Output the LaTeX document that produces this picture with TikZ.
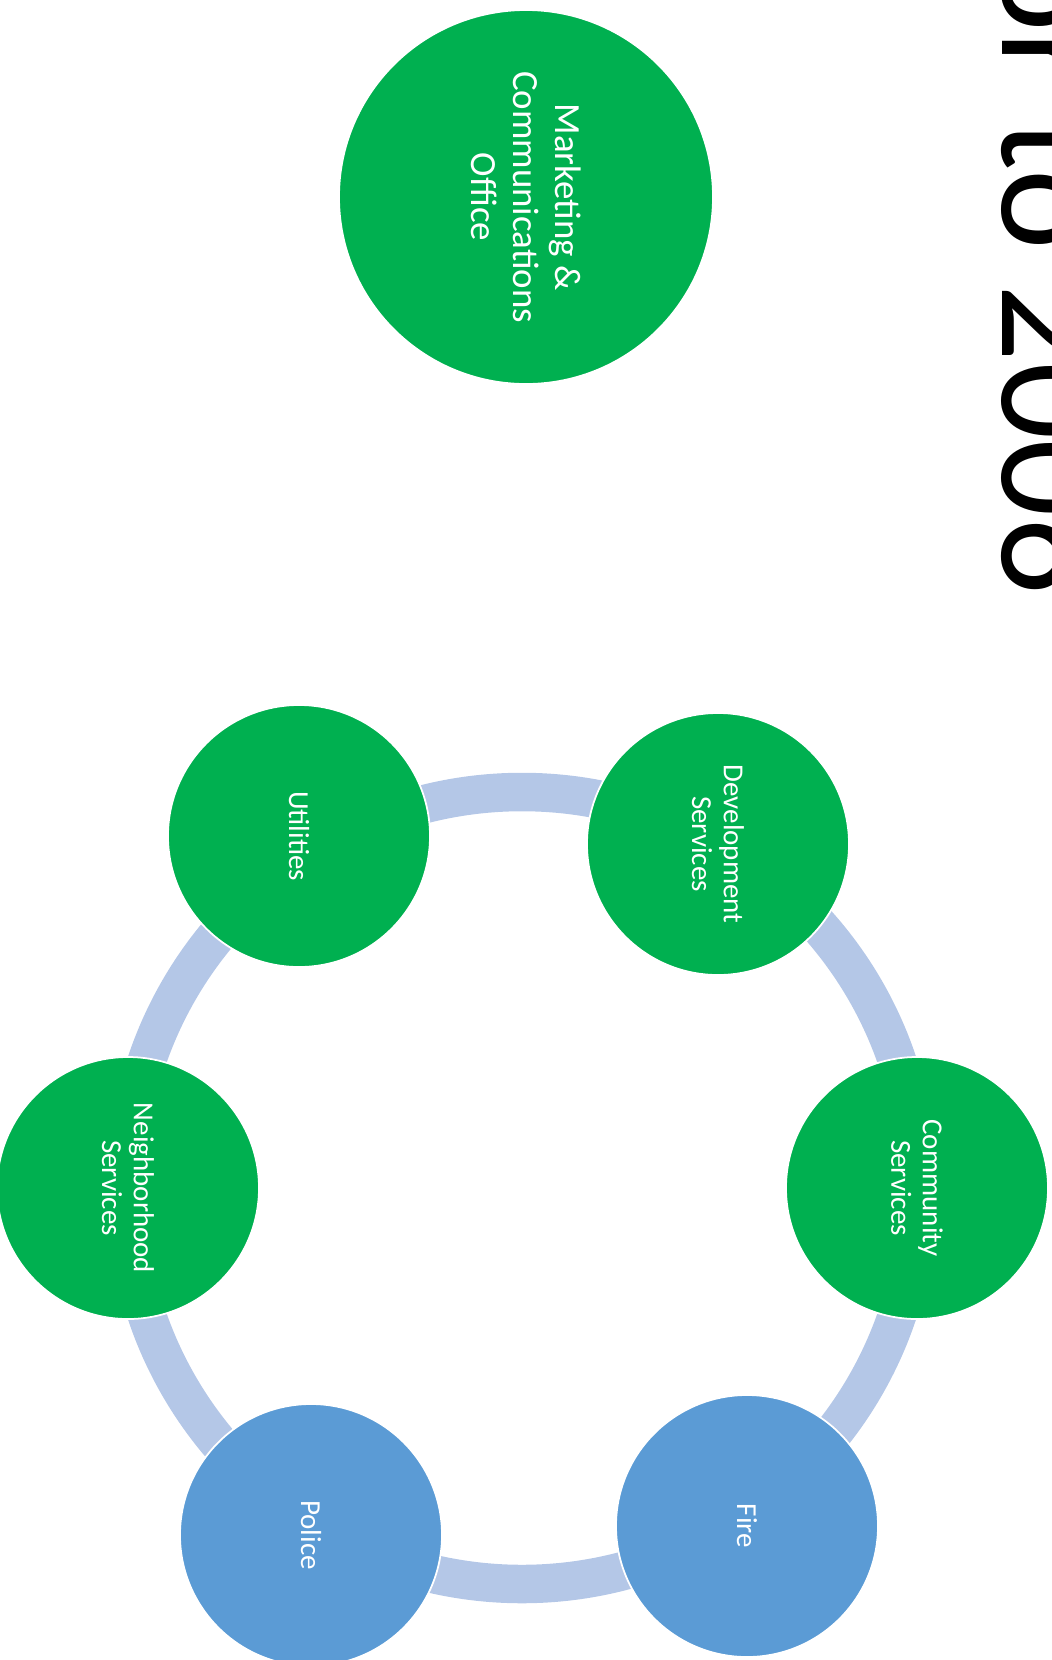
\documentclass[tikz,border=0pt]{standalone}
\usepackage{fontspec}
\setmainfont{Carlito}
\usepackage{tikz}
\definecolor{OfficeGreen}{RGB}{0,176,80}
\definecolor{OfficeBlue}{RGB}{91,155,213}
\definecolor{RingBlue}{RGB}{180,199,231}
\tikzset{
  ball/.style={circle, draw=white, line width=0.35mm, minimum size=52.4mm, inner sep=0pt,
    text=white, align=center, rotate=-90, font=\fontsize{16.5}{18}\selectfont},
  greenball/.style={ball, fill=OfficeGreen},
  blueball/.style={ball, fill=OfficeBlue},
  bigball/.style={greenball, minimum size=74.8mm, font=\fontsize{21}{24}\selectfont},
  ringband/.style={draw=RingBlue, line width=7.7mm},
  titletxt/.style={rotate=-90, inner sep=0pt, font=\fontsize{87}{87}\selectfont},
}

\begin{document}
\begin{tikzpicture}[x=0.2mm, y=-0.2mm]
  \useasboundingbox (0,0) rectangle (1052,1660);
  \clip (0,0) rectangle (1052,1660);
  \node[titletxt, anchor=base east] (title) at (1002,595) {or to 2006};
  \node[bigball] (mkt) at (526,197) {Marketing \&\\Communications\\Office};
  \coordinate (hub) at (522,1188);
  \draw[ringband] (hub) circle[radius=79.2mm];
  \node[greenball] (dev) at (718,844) {Development\\Services};
  \node[greenball] (com) at (917,1188) {Community\\Services};
  \node[blueball] (fire) at (747,1526) {Fire};
  \node[blueball] (police) at (311,1535) {Police};
  \node[greenball] (nbh) at (128,1188) {Neighborhood\\Services};
  \node[greenball] (util) at (299,836) {Utilities};
\end{tikzpicture}
\end{document}
